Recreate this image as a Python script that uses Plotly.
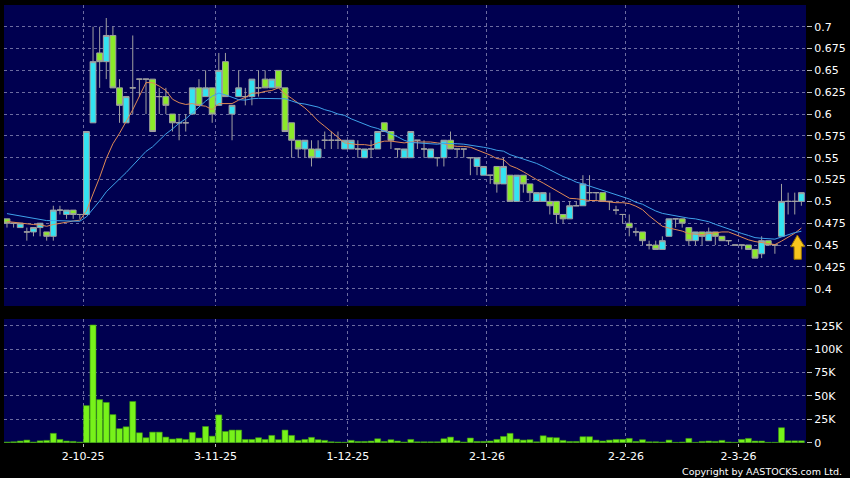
import plotly.graph_objects as go
import pandas as pd

# ---------------- data ----------------
tick_dates = ["2-10-25", "3-11-25", "1-12-25", "2-1-26", "2-2-26", "2-3-26"]
tick_index = [11, 31, 51, 72, 93, 110]

opens = [0.48, 0.475, 0.47, 0.465, 0.465, 0.47, 0.465, 0.46, 0.49, 0.485,
         0.49, 0.485, 0.485, 0.59, 0.67, 0.66, 0.69, 0.63, 0.59, 0.63,
         0.64, 0.64, 0.64, 0.62, 0.62, 0.60, 0.59, 0.59, 0.60, 0.63,
         0.62, 0.63, 0.61, 0.66, 0.60, 0.62, 0.62, 0.62, 0.63, 0.64,
         0.63, 0.65, 0.63, 0.59, 0.57, 0.56, 0.56, 0.55, 0.57, 0.57,
         0.57, 0.56, 0.56, 0.56, 0.55, 0.56, 0.56, 0.59, 0.58, 0.56,
         0.55, 0.55, 0.57, 0.56, 0.55, 0.55, 0.55, 0.57, 0.56, 0.56,
         0.55, 0.54, 0.53, 0.53, 0.54, 0.52, 0.53, 0.50, 0.53, 0.52,
         0.50, 0.50, 0.50, 0.50, 0.485, 0.48, 0.495, 0.495, 0.51, 0.51,
         0.51, 0.50, 0.49, 0.485, 0.475, 0.465, 0.465, 0.45, 0.45, 0.445,
         0.46, 0.48, 0.48, 0.47, 0.455, 0.465, 0.455, 0.465, 0.46, 0.455,
         0.45, 0.45, 0.45, 0.445, 0.44, 0.455, 0.45, 0.46, 0.50, 0.50,
         0.50]
highs = [0.48, 0.475, 0.475, 0.47, 0.47, 0.475, 0.465, 0.495, 0.495, 0.49,
         0.49, 0.485, 0.58, 0.70, 0.70, 0.71, 0.70, 0.64, 0.62, 0.69,
         0.64, 0.64, 0.64, 0.63, 0.63, 0.60, 0.60, 0.60, 0.63, 0.64,
         0.65, 0.63, 0.67, 0.67, 0.61, 0.65, 0.63, 0.64, 0.65, 0.65,
         0.64, 0.65, 0.63, 0.59, 0.57, 0.57, 0.57, 0.57, 0.58, 0.58,
         0.58, 0.57, 0.57, 0.57, 0.56, 0.57, 0.58, 0.59, 0.58, 0.56,
         0.56, 0.58, 0.57, 0.57, 0.56, 0.55, 0.57, 0.58, 0.56, 0.56,
         0.55, 0.55, 0.54, 0.53, 0.54, 0.55, 0.53, 0.53, 0.53, 0.52,
         0.51, 0.51, 0.51, 0.50, 0.485, 0.50, 0.50, 0.53, 0.53, 0.51,
         0.51, 0.50, 0.495, 0.485, 0.485, 0.47, 0.465, 0.455, 0.455, 0.46,
         0.48, 0.48, 0.48, 0.47, 0.465, 0.465, 0.47, 0.465, 0.46, 0.455,
         0.45, 0.45, 0.45, 0.445, 0.46, 0.455, 0.45, 0.52, 0.51, 0.51,
         0.51]
lows = [0.47, 0.47, 0.47, 0.455, 0.46, 0.46, 0.455, 0.455, 0.485, 0.48,
        0.48, 0.48, 0.485, 0.59, 0.63, 0.64, 0.63, 0.59, 0.59, 0.60,
        0.62, 0.60, 0.58, 0.60, 0.60, 0.58, 0.57, 0.58, 0.60, 0.61,
        0.62, 0.59, 0.61, 0.62, 0.57, 0.62, 0.61, 0.61, 0.62, 0.63,
        0.63, 0.63, 0.58, 0.55, 0.55, 0.55, 0.54, 0.55, 0.56, 0.56,
        0.56, 0.56, 0.56, 0.55, 0.55, 0.55, 0.56, 0.58, 0.56, 0.55,
        0.55, 0.55, 0.56, 0.55, 0.55, 0.54, 0.54, 0.56, 0.55, 0.55,
        0.53, 0.53, 0.53, 0.52, 0.51, 0.52, 0.50, 0.50, 0.51, 0.50,
        0.50, 0.50, 0.485, 0.475, 0.475, 0.48, 0.495, 0.495, 0.50, 0.50,
        0.50, 0.49, 0.485, 0.475, 0.46, 0.46, 0.45, 0.445, 0.445, 0.445,
        0.46, 0.47, 0.47, 0.45, 0.45, 0.45, 0.455, 0.45, 0.455, 0.45,
        0.45, 0.445, 0.445, 0.435, 0.435, 0.45, 0.44, 0.46, 0.485, 0.485,
        0.495]
closes = [0.475, 0.475, 0.475, 0.465, 0.47, 0.475, 0.46, 0.49, 0.49, 0.49,
          0.485, 0.485, 0.58, 0.66, 0.66, 0.69, 0.63, 0.61, 0.62, 0.63,
          0.64, 0.64, 0.58, 0.62, 0.61, 0.59, 0.59, 0.59, 0.63, 0.61,
          0.63, 0.60, 0.65, 0.62, 0.61, 0.63, 0.62, 0.64, 0.63, 0.63,
          0.64, 0.63, 0.58, 0.57, 0.56, 0.57, 0.55, 0.56, 0.57, 0.57,
          0.57, 0.57, 0.57, 0.56, 0.56, 0.56, 0.58, 0.58, 0.57, 0.56,
          0.56, 0.58, 0.57, 0.56, 0.56, 0.55, 0.57, 0.56, 0.56, 0.56,
          0.55, 0.55, 0.54, 0.53, 0.52, 0.54, 0.50, 0.53, 0.52, 0.51,
          0.51, 0.51, 0.495, 0.485, 0.48, 0.495, 0.495, 0.52, 0.51, 0.51,
          0.50, 0.50, 0.49, 0.485, 0.47, 0.465, 0.455, 0.45, 0.445, 0.455,
          0.48, 0.48, 0.475, 0.455, 0.465, 0.46, 0.465, 0.46, 0.455, 0.455,
          0.45, 0.45, 0.445, 0.435, 0.455, 0.45, 0.45, 0.50, 0.50, 0.50,
          0.51]
volumes = [700, 1000, 1800, 2800, 700, 2000, 2500, 10000, 3500, 1800,
           1400, 700, 39600, 125700, 46000, 43000, 30000, 15000, 17000, 44000,
           10600, 5300, 11300, 11300, 6000, 3900, 4600, 3500, 11000, 5000,
           17300, 7000, 29700, 12000, 13500, 13500, 3500, 3500, 5300, 3500,
           7800, 3200, 13500, 7800, 2500, 3500, 5700, 3200, 2500, 1000,
           700, 500, 2500, 1400, 1400, 1800, 4200, 1400, 3200, 1800,
           700, 3500, 1000, 1000, 1000, 1000, 4200, 6000, 2000, 700,
           5000, 1400, 1400, 1800, 3500, 6700, 10000, 3900, 2800, 3200,
           1000, 7400, 5700, 5300, 2500, 1400, 1400, 6400, 6400, 2800,
           1800, 2800, 3500, 3500, 4600, 1400, 3200, 1000, 1000, 700,
           2800, 400, 700, 4600, 400, 1400, 1800, 1400, 2500, 700,
           400, 3500, 4600, 1800, 1800, 400, 400, 16000, 2000, 2000,
           2000]
# closes before the visible window, estimated from where the average lines start
ma_seed_closes = [0.50, 0.495, 0.50, 0.49, 0.495, 0.50, 0.49, 0.495, 0.495, 0.49,
                  0.485, 0.48, 0.48, 0.475, 0.48, 0.475, 0.47, 0.475, 0.475]

price_ticks = [0.4, 0.425, 0.45, 0.475, 0.5, 0.525, 0.55, 0.575, 0.6, 0.625, 0.65, 0.675, 0.7]
price_tick_text = ["0.4", "0.425", "0.45", "0.475", "0.5", "0.525", "0.55", "0.575",
                   "0.6", "0.625", "0.65", "0.675", "0.7"]
vol_ticks = [0, 25000, 50000, 75000, 100000, 125000]
vol_tick_text = ["0", "25K", "50K", "75K", "100K", "125K"]

# ---------------- derived ----------------
idx = list(range(len(closes)))
n_seed = len(ma_seed_closes)
all_closes = pd.Series(ma_seed_closes + closes)
ma10 = all_closes.rolling(10).mean().iloc[n_seed:].tolist()
ma20 = all_closes.rolling(20).mean().iloc[n_seed:].tolist()
grid_x = [i + 0.5 for i in tick_index]

# ---------------- style ----------------
NAVY = "#000050"
GRID = "#6c6ca0"
CYAN = "#33E3F2"
LIME = "#8BEA2A"
WICK = "#a0a0a0"
VOLC = "#77F21A"
FONT = "DejaVu Sans"

fig = go.Figure()
fig.add_trace(go.Candlestick(
    x=idx, open=opens, high=highs, low=lows, close=closes,
    increasing=dict(fillcolor=CYAN, line=dict(color=WICK, width=1)),
    decreasing=dict(fillcolor=LIME, line=dict(color=WICK, width=1)),
    whiskerwidth=0, xaxis="x", yaxis="y", showlegend=False, hoverinfo="skip"))
fig.add_trace(go.Scatter(x=idx, y=ma10, mode="lines", line=dict(color="#E08A55", width=1),
                         xaxis="x", yaxis="y", showlegend=False, hoverinfo="skip"))
fig.add_trace(go.Scatter(x=idx, y=ma20, mode="lines", line=dict(color="#3FA2EA", width=1),
                         xaxis="x", yaxis="y", showlegend=False, hoverinfo="skip"))
fig.add_trace(go.Bar(x=idx, y=volumes, width=0.9,
                     marker=dict(color=VOLC, line=dict(color="#3c9a10", width=0.6)),
                     xaxis="x2", yaxis="y2", showlegend=False, hoverinfo="skip"))

# up arrow marker at the right end
fig.add_shape(type="path", xref="paper", yref="paper",
              path="M 0.9892,0.4749 L 0.9984,0.4482 L 0.9942,0.4482 L 0.9942,0.4194 "
                   "L 0.9851,0.4194 L 0.9851,0.4482 L 0.9810,0.4482 Z",
              fillcolor="#F7C51E", line=dict(color="#9a7400", width=1), layer="above")

fig.add_annotation(text="Copyright by AASTOCKS.com Ltd.", xref="paper", yref="paper",
                   x=1.048, y=-0.064, xanchor="right", yanchor="middle", showarrow=False,
                   font=dict(family=FONT, size=9.5, color="#ffffff"))

xr = [-0.45, 120.7]
common_x = dict(range=xr, tickvals=grid_x, showgrid=True, gridcolor=GRID, griddash="3px,3px",
                gridwidth=1, zeroline=False, showline=False, fixedrange=True)
common_y = dict(side="right", showgrid=True, gridcolor=GRID, griddash="3px,3px", gridwidth=1,
                zeroline=False, showline=False, ticks="outside", ticklen=5, tickcolor="#bbbbbb",
                tickfont=dict(family=FONT, size=11, color="#ffffff"), fixedrange=True)

fig.update_layout(
    width=850, height=478,
    margin=dict(l=4, r=42, t=5, b=35),
    paper_bgcolor="#000000", plot_bgcolor=NAVY,
    boxgap=0.12, boxgroupgap=0, bargap=0.1,
    hovermode=False,
    xaxis=dict(**common_x, anchor="y", showticklabels=False, rangeslider=dict(visible=False)),
    xaxis2=dict(**common_x, anchor="y2", matches="x", ticktext=tick_dates, ticks="outside",
                ticklen=3, tickcolor="#bbbbbb",
                tickfont=dict(family=FONT, size=11, color="#ffffff")),
    yaxis=dict(**common_y, domain=[0.3128, 1.0], range=[0.3802, 0.7249],
               tickvals=price_ticks, ticktext=price_tick_text),
    yaxis2=dict(**common_y, domain=[0.0, 0.2831], range=[-300, 132100],
                tickvals=vol_ticks, ticktext=vol_tick_text),
)

fig.write_html("out.html", config={"displayModeBar": False},
               post_script="document.body.style.margin='0';document.body.style.background='#000';"
                           "document.body.style.overflow='hidden';")
